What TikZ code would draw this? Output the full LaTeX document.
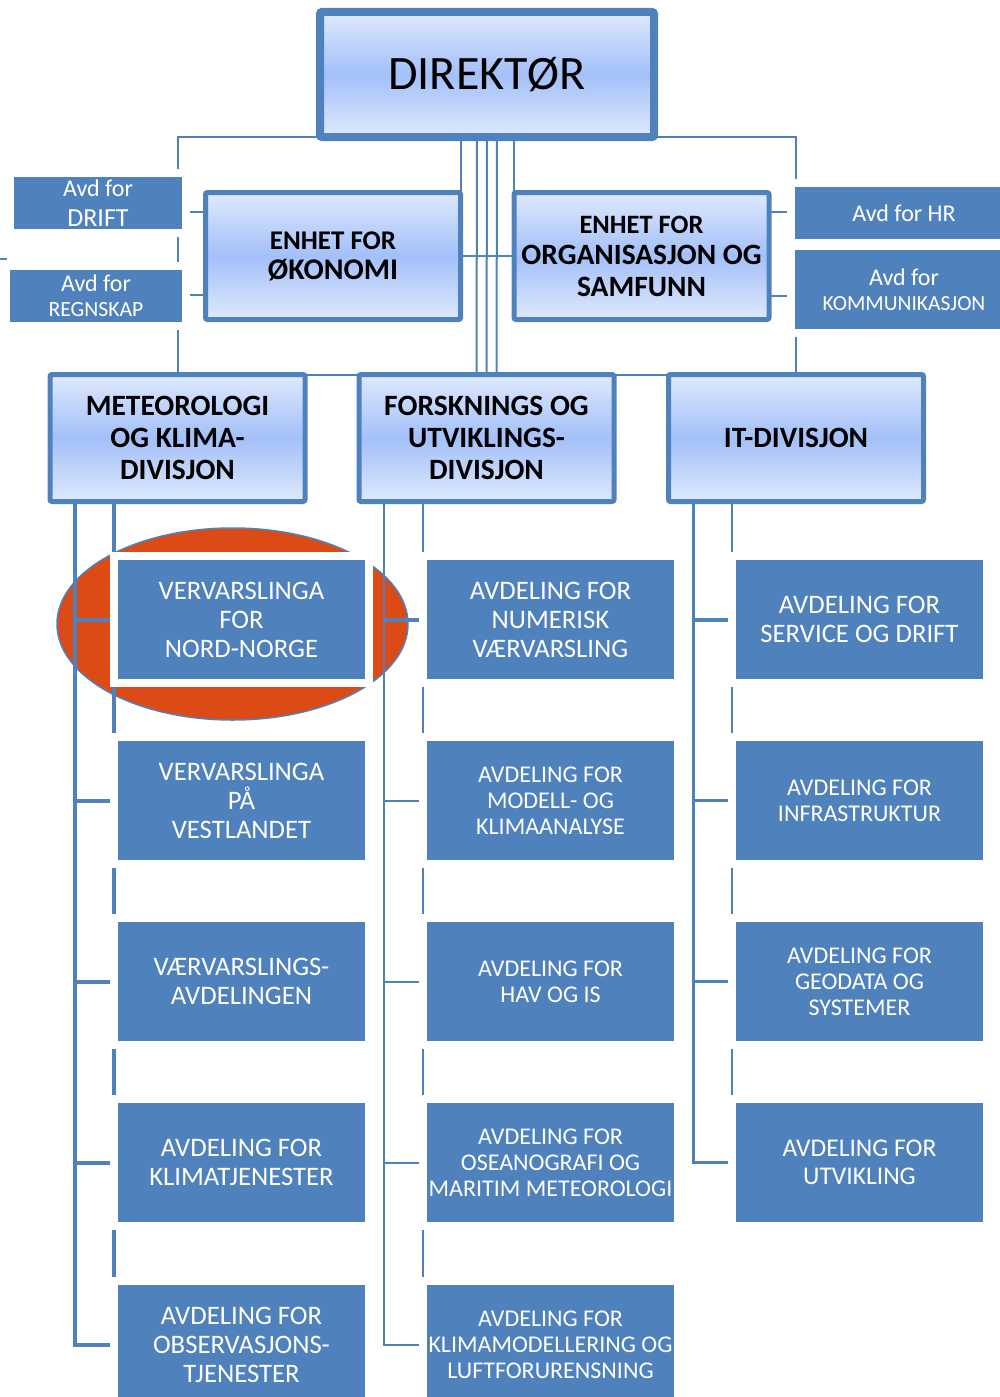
\documentclass[tikz,border=0pt]{standalone}
\usepackage{fontspec}
\setmainfont{Carlito}
\usetikzlibrary{shapes.geometric}

\definecolor{orgblue}{RGB}{79,129,189}
\definecolor{boxlight}{RGB}{222,233,252}
\definecolor{boxmid}{RGB}{163,192,249}
\definecolor{ovalred}{RGB}{220,74,22}

\pgfdeclarelayer{bottom}
\pgfdeclarelayer{background}
\pgfsetlayers{bottom,background,main}

\tikzset{
    headbox/.style={draw=orgblue, line width=5pt, rounded corners=2pt,
        top color=boxlight, bottom color=boxlight, middle color=boxmid,
        minimum width=255pt, minimum height=127pt, inner sep=0pt, outer sep=0pt,
        align=center, font=\bfseries\fontsize{29.5}{32}\selectfont},
    unitbox/.style={fill=orgblue, text=white, preaction={draw=white, line width=16pt},
        minimum width=247pt, minimum height=119pt, inner sep=0pt, outer sep=0pt,
        align=center, font=\fontsize{26.7}{29}\selectfont},
    smalltext/.style={font=\fontsize{24}{26}\selectfont},
    avdbox/.style={fill=orgblue, text=white, preaction={draw=white, line width=16pt},
        inner sep=0pt, outer sep=0pt, align=center, font=\fontsize{24}{30}\selectfont},
    link/.style={draw=orgblue, line width=2pt},
}

\begin{document}
\begin{tikzpicture}[x=1pt, y=-1pt]
    \useasboundingbox (0,0) rectangle (999,1397);

    \node[headbox, line width=8pt, minimum width=334pt, minimum height=125pt, font=\fontsize{48}{50}\selectfont] (dir) at (487,74.5) {DIREKTØR};
    \node[headbox, font=\bfseries\fontsize{30}{30}\selectfont] (oko) at (333,256) {{\fontsize{27}{30}\selectfont ENHET FOR}\\ØKONOMI};
    \node[headbox, font=\bfseries\fontsize{29.5}{31.5}\selectfont] (org) at (641.5,256) {{\fontsize{26.5}{31.5}\selectfont ENHET FOR}\\ORGANISASJON OG\\SAMFUNN};

    \node[avdbox, minimum width=168pt, minimum height=52pt] (drift) at (98,203) {Avd for\\{\fontsize{26}{30}\selectfont DRIFT}};
    \node[avdbox, minimum width=172pt, minimum height=52pt, font=\fontsize{24}{25}\selectfont] (regn) at (96,296) {Avd for\\{\fontsize{21.7}{25}\selectfont REGNSKAP}};
    \node[avdbox, minimum width=218pt, minimum height=52pt] (hr) at (904,213) {Avd for HR};
    \node[avdbox, minimum width=218pt, minimum height=79pt, font=\fontsize{24}{25}\selectfont] (komm) at (904,289.5) {Avd for\\{\fontsize{21.5}{25}\selectfont KOMMUNIKASJON}};

    \node[headbox] (met) at (177.5,438) {METEOROLOGI\\OG KLIMA-\\DIVISJON};
    \node[headbox] (fou) at (486.5,438) {FORSKNINGS OG\\UTVIKLINGS-\\DIVISJON};
    \node[headbox] (it) at (796,438) {IT-DIVISJON};

    \node[unitbox] (met1) at (241.5,619.5) {VERVARSLINGA\\FOR\\NORD-NORGE};
    \node[unitbox] (met2) at (241.5,800.5) {VERVARSLINGA\\PÅ\\VESTLANDET};
    \node[unitbox] (met3) at (241.5,981.5) {VÆRVARSLINGS-\\AVDELINGEN};
    \node[unitbox] (met4) at (241.5,1162.5) {AVDELING FOR\\KLIMATJENESTER};
    \node[unitbox] (met5) at (241.5,1344.5) {AVDELING FOR\\OBSERVASJONS-\\TJENESTER};

    \node[unitbox] (fou1) at (550.5,619.5) {AVDELING FOR\\NUMERISK\\VÆRVARSLING};
    \node[unitbox, smalltext] (fou2) at (550.5,800.5) {AVDELING FOR\\MODELL- OG\\KLIMAANALYSE};
    \node[unitbox, smalltext] (fou3) at (550.5,981.5) {AVDELING FOR\\HAV OG IS};
    \node[unitbox, smalltext] (fou4) at (550.5,1162.5) {AVDELING FOR\\OSEANOGRAFI OG\\MARITIM METEOROLOGI};
    \node[unitbox, smalltext] (fou5) at (550.5,1344.5) {AVDELING FOR\\KLIMAMODELLERING OG\\LUFTFORURENSNING};

    \node[unitbox] (it1) at (859.5,619.5) {AVDELING FOR\\SERVICE OG DRIFT};
    \node[unitbox, smalltext] (it2) at (859.5,800.5) {AVDELING FOR\\INFRASTRUKTUR};
    \node[unitbox, smalltext] (it3) at (859.5,981.5) {AVDELING FOR\\GEODATA OG\\SYSTEMER};
    \node[unitbox, font=\fontsize{25.5}{28}\selectfont] (it4) at (859.5,1162.5) {AVDELING FOR\\UTVIKLING};

    \coordinate (stray) at (0,259);
    \coordinate (strayend) at (7,259);

    % the red oval round the first unit
    \begin{pgfonlayer}{bottom}
    \node[ellipse, draw=orgblue, line width=1.5pt, fill=ovalred, minimum width=351pt, minimum height=192pt] (oval) at (232.5,624) {};
    \end{pgfonlayer}

    \begin{pgfonlayer}{background}
    \draw[link] (met.north) |- (dir.south west);
    \draw[link] (it.north) |- (dir.south east);
    \draw[link] (met.north east) -- (it.north west);
    \draw[link] (dir.south -| oko.north east) -- (oko.north east);
    \draw[link] (dir.south -| org.north west) -- (org.north west);
    \draw[link] (oko.east) -- (org.west);
    \foreach \dx in {-10,0,10}
        \draw[link] ([xshift=\dx pt]dir.south) -- ([xshift=\dx pt]fou.north);
    \draw[link] ([yshift=44pt]oko.west) -- ([yshift=44pt]oko.west -| drift.east);
    \draw[link] ([yshift=-39pt]oko.west) -- ([yshift=-39pt]oko.west -| regn.east);
    \draw[link] ([yshift=44pt]org.east) -- ([yshift=44pt]org.east -| hr.west);
    \draw[link] ([yshift=-40pt]org.east) -- ([yshift=-40pt]org.east -| komm.west);
    \draw[link] (stray) -- (strayend);

    \foreach \col/\last/\w in {met/5/4, fou/5/2, it/4/2.5}{
        \draw[link, line width=\w pt] ([xshift=25pt]\col.south west) |- (\col\last.west);
        \draw[link, line width=\w pt] ([xshift=63.5pt]\col.south west) -- ([xshift=63.5pt]\col.south west |- \col\last.north);
        \foreach \r in {2,...,\last}
            \draw[link, line width=\w pt] ([xshift=25pt]\col.south west |- \col\r.west) -- (\col\r.west);
        \draw[link, line width=4pt] ([xshift=25pt]\col.south west |- \col1.west) -- (\col1.west);
    }
    \end{pgfonlayer}
\end{tikzpicture}
\end{document}
